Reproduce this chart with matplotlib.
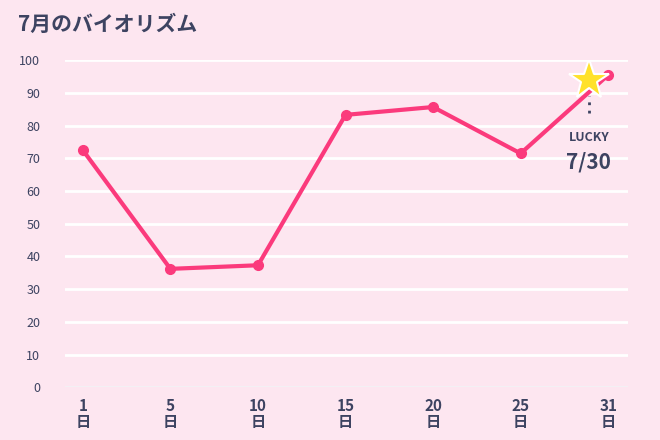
import matplotlib
matplotlib.use('Agg')
import matplotlib.pyplot as plt

plt.rcParams['font.family'] = ['Noto Sans CJK JP', 'DejaVu Sans']

days = ['1', '5', '10', '15', '20', '25', '31']
values = [72.5, 36.2, 37.3, 83.3, 85.7, 71.5, 95.5]
lucky_pos = 5.78
lucky_val = 94
lucky_label = '7/30'

bg = '#fde6f0'
pink = '#fb3a7c'
navy = '#3d4361'

fig = plt.figure(figsize=(6.6, 4.4), dpi=100, facecolor=bg)
ax = fig.add_axes([0.099, 0.12, 0.853, 0.743])
ax.set_facecolor(bg)

x = list(range(len(days)))
ax.plot(x, values, color=pink, lw=3, marker='o', ms=7, zorder=3)

ax.set_ylim(0, 100)
ax.set_xlim(-0.2, 6.23)
ax.set_yticks(range(0, 101, 10))
ax.grid(axis='y', color='white', lw=2)
ax.set_axisbelow(True)
for s in ax.spines.values():
    s.set_visible(False)
ax.axhline(0, color='#c8c0d4', lw=1, zorder=1)
ax.tick_params(length=0)
ax.tick_params(axis='y', labelsize=9, colors=navy, pad=18)
ax.set_xticks(x)
ax.set_xticklabels([d + '\n日' for d in days], fontsize=11, color=navy,
                   fontweight='bold', linespacing=1.0)
ax.tick_params(axis='x', pad=8)

# lucky marker
ax.plot([lucky_pos], [lucky_val], marker='*', ms=30, color='#ffe12b',
        markeredgecolor='white', markeredgewidth=1.5, zorder=4)
ax.plot([lucky_pos, lucky_pos], [84, 89], color=navy, lw=2,
        ls=(0, (1, 2)), zorder=2)
ax.text(lucky_pos, 76.5, 'LUCKY', ha='center', va='center', fontsize=9,
        fontweight='bold', color=navy)
ax.text(lucky_pos, 69, lucky_label, ha='center', va='center', fontsize=15,
        fontweight='bold', color=navy)

fig.text(0.027, 0.945, '7月のバイオリズム', fontsize=15, fontweight='bold',
         color=navy, va='center')

fig.savefig('out.png', dpi=100, facecolor=bg)
